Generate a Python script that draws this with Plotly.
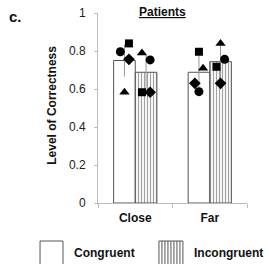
import plotly.graph_objects as go

# ---- data ----
categories = ["Close", "Far"]
congruent_mean = [0.75, 0.688]
incongruent_mean = [0.688, 0.744]
congruent_err = [0.085, 0.09]
incongruent_err = [0.09, 0.09]

# individual patients, order: [Close-Cong, Close-Incong, Far-Cong, Far-Incong]
circle_vals = [0.796, 0.753, 0.586, 0.756]
square_vals = [0.84, 0.583, 0.796, 0.717]
diamond_vals = [0.756, 0.583, 0.63, 0.63]
triangle_vals = [0.583, 0.79, 0.709, 0.84]

y_ticks = [0, 0.2, 0.4, 0.6, 0.8, 1]

# ---- layout helpers (positions) ----
xpos = list(range(len(categories)))
half = 0.145
centers = [xpos[0] - half, xpos[0] + half, xpos[1] - half, xpos[1] + half]
d = 0.055
offsets = {
    "circle": [-d, d, 0, d],
    "square": [d * 1.1, -d, 0, -d],
    "diamond": [d * 1.1, d, -d, 0],
    "triangle-up": [0, -d, d, 0],
}
edge = "#555555"

fig = go.Figure()
fig.add_trace(go.Bar(
    x=xpos, y=congruent_mean, name="Congruent",
    marker=dict(color="white", line=dict(color=edge, width=1)),
    error_y=dict(type="data", array=congruent_err, color="#999999", thickness=1, width=0),
))
fig.add_trace(go.Bar(
    x=xpos, y=incongruent_mean, name="Incongruent",
    marker=dict(color="white", line=dict(color=edge, width=1),
                pattern=dict(shape="|", size=3, solidity=0.4, fgcolor="#444444", bgcolor="white")),
    error_y=dict(type="data", array=incongruent_err, color="#999999", thickness=1, width=0),
))

for sym, vals, sz in [("circle", circle_vals, 9), ("square", square_vals, 8),
                      ("diamond", diamond_vals, 9), ("triangle-up", triangle_vals, 9)]:
    xs = [c + o for c, o in zip(centers, offsets[sym])]
    fig.add_trace(go.Scatter(x=xs, y=vals, mode="markers",
                             marker=dict(symbol=sym, size=sz, color="black"),
                             showlegend=False, hoverinfo="skip"))

fig.update_layout(
    width=269, height=264, autosize=False,
    margin=dict(l=98, r=22, t=13, b=61, pad=0, autoexpand=False),
    paper_bgcolor="white", plot_bgcolor="white",
    barmode="group", bargap=0.42, bargroupgap=0,
    showlegend=False,
    font=dict(family="Liberation Sans, Arial", size=12, color="#222"),
)
fig.update_xaxes(
    range=[-0.5, 1.5], tickmode="array", tickvals=xpos, automargin=False,
    ticktext=["<b>%s</b>" % c for c in categories],
    ticks="", showline=True, linecolor="#bbbbbb", linewidth=1,
    showgrid=False, zeroline=False, tickfont=dict(size=12, color="#111"),
    ticklabelstandoff=4,
    minor=dict(tickmode="array", tickvals=[-0.5, 0.5, 1.5], ticks="outside",
               ticklen=4, tickcolor="#bbbbbb", showgrid=False),
)
fig.update_yaxes(
    range=[0, 1], tickmode="array", tickvals=y_ticks, automargin=False,
    ticktext=[("%g" % v) for v in y_ticks],
    ticks="outside", ticklen=3, tickcolor="#bbbbbb",
    showline=True, linecolor="#bbbbbb", linewidth=1, ticklabelstandoff=6,
    showgrid=False, zeroline=False, tickfont=dict(size=12, color="#222"),
)

ann = [
    dict(text="<b>c.</b>", x=-0.557, y=0.984, font=dict(size=15, color="#111")),
    dict(text="<b><u>Patients</u></b>", x=0.43, y=1.005, font=dict(size=12, color="#111")),
    dict(text="<b>Level of Correctness</b>", x=-0.31, y=0.516, textangle=-90,
         font=dict(size=12, color="#111")),
    dict(text="<b>Congruent</b>", x=-0.175, y=-0.263, xanchor="left", font=dict(size=12, color="#111")),
    dict(text="<b>Incongruent</b>", x=0.631, y=-0.263, xanchor="left", font=dict(size=12, color="#111")),
]
for a in ann:
    a.setdefault("xanchor", "center")
    fig.add_annotation(xref="paper", yref="paper", showarrow=False, yanchor="middle", **a)

# legend swatches
fig.add_shape(type="rect", xref="paper", yref="paper", x0=-0.389, x1=-0.235, y0=-0.33, y1=-0.2,
              line=dict(color=edge, width=1), fillcolor="white")
fig.add_shape(type="rect", xref="paper", yref="paper", x0=0.409, x1=0.570, y0=-0.33, y1=-0.2,
              line=dict(color=edge, width=1), fillcolor="white")
px = 1 / 149
for i in range(1, 8):
    xx = 0.409 + i * 3 * px
    fig.add_shape(type="line", xref="paper", yref="paper", x0=xx, x1=xx, y0=-0.33, y1=-0.2,
                  line=dict(color=edge, width=1))

fig.write_html("out.html", config={"displayModeBar": False},
               post_script="document.body.style.margin='0';")
